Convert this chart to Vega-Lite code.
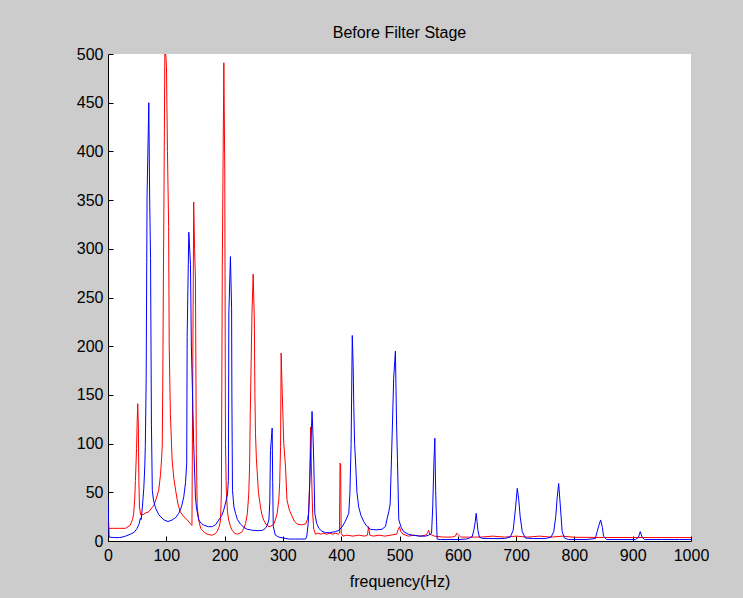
{
  "$schema": "https://vega.github.io/schema/vega-lite/v6.json",
  "width": 583,
  "height": 487,
  "autosize": {"type": "none"},
  "padding": {"left": 108, "top": 54, "right": 52, "bottom": 57},
  "background": "#cccccc",
  "config": {
    "view": {"fill": "white", "stroke": null},
    "font": "Liberation Sans",
    "axis": {
      "grid": false,
      "domainColor": "black",
      "domainWidth": 1,
      "tickColor": "black",
      "tickSize": -5,
      "labelColor": "black",
      "labelFont": "Liberation Sans",
      "labelFontSize": 16,
      "titleColor": "black",
      "titleFont": "Liberation Sans",
      "titleFontSize": 16,
      "titleFontWeight": "normal"
    }
  },
  "title": {
    "text": "Before Filter Stage",
    "fontSize": 16,
    "fontWeight": "normal",
    "font": "Liberation Sans",
    "color": "black",
    "baseline": "alphabetic",
    "offset": 16,
    "dy": 24
  },
  "datasets": {
    "red": [
      {"f": 0, "a": 25}, {"f": 1, "a": 13}, {"f": 10, "a": 13}, {"f": 20, "a": 13}, {"f": 30, "a": 13},
      {"f": 38, "a": 16}, {"f": 42, "a": 22}, {"f": 44, "a": 28}, {"f": 46, "a": 45}, {"f": 47, "a": 62},
      {"f": 49, "a": 95}, {"f": 50, "a": 121}, {"f": 51, "a": 141}, {"f": 52, "a": 120}, {"f": 53, "a": 60},
      {"f": 54, "a": 35}, {"f": 56, "a": 27}, {"f": 60, "a": 27}, {"f": 65, "a": 29}, {"f": 70, "a": 30},
      {"f": 75, "a": 34}, {"f": 79, "a": 37}, {"f": 83, "a": 44}, {"f": 87, "a": 52}, {"f": 90, "a": 68},
      {"f": 92, "a": 85}, {"f": 93, "a": 97}, {"f": 94, "a": 165}, {"f": 95, "a": 268}, {"f": 96, "a": 352},
      {"f": 97.5, "a": 500}, {"f": 99, "a": 500}, {"f": 100.3, "a": 487}, {"f": 102, "a": 400}, {"f": 104, "a": 323},
      {"f": 105, "a": 200}, {"f": 107, "a": 131}, {"f": 110, "a": 83}, {"f": 113, "a": 64}, {"f": 116, "a": 52},
      {"f": 120, "a": 38}, {"f": 124, "a": 30}, {"f": 130, "a": 25}, {"f": 136, "a": 21.6}, {"f": 141, "a": 18},
      {"f": 144, "a": 16}, {"f": 145.5, "a": 183}, {"f": 147, "a": 348}, {"f": 148.5, "a": 300}, {"f": 150, "a": 270},
      {"f": 151.5, "a": 90}, {"f": 153, "a": 35}, {"f": 156, "a": 20}, {"f": 159, "a": 13}, {"f": 163, "a": 10},
      {"f": 167, "a": 8}, {"f": 173, "a": 6.5}, {"f": 179, "a": 6}, {"f": 184, "a": 7.5}, {"f": 187, "a": 9.6},
      {"f": 191, "a": 15}, {"f": 193, "a": 21.6}, {"f": 194.5, "a": 49}, {"f": 196, "a": 278}, {"f": 198.7, "a": 491},
      {"f": 200.3, "a": 380}, {"f": 201.5, "a": 100}, {"f": 203, "a": 50}, {"f": 205, "a": 30}, {"f": 207, "a": 21.6},
      {"f": 210, "a": 15}, {"f": 213, "a": 11}, {"f": 217, "a": 8}, {"f": 222, "a": 7}, {"f": 226, "a": 8},
      {"f": 230, "a": 9.6}, {"f": 233, "a": 13}, {"f": 236, "a": 18}, {"f": 239, "a": 28}, {"f": 241.5, "a": 49},
      {"f": 243, "a": 80}, {"f": 244, "a": 131}, {"f": 247, "a": 235}, {"f": 249, "a": 274}, {"f": 251, "a": 227},
      {"f": 252, "a": 150}, {"f": 253, "a": 110}, {"f": 254.5, "a": 85}, {"f": 256, "a": 70}, {"f": 258, "a": 50},
      {"f": 261.6, "a": 35}, {"f": 264, "a": 27}, {"f": 267, "a": 21.6}, {"f": 271, "a": 17}, {"f": 276, "a": 14.7},
      {"f": 281.6, "a": 15.7}, {"f": 285, "a": 18}, {"f": 287, "a": 21.6}, {"f": 290, "a": 28}, {"f": 293, "a": 42},
      {"f": 294.5, "a": 60}, {"f": 296, "a": 97}, {"f": 297, "a": 193}, {"f": 298.5, "a": 160}, {"f": 300, "a": 130},
      {"f": 301.5, "a": 100}, {"f": 304.5, "a": 76}, {"f": 307, "a": 42}, {"f": 311, "a": 32}, {"f": 316, "a": 25},
      {"f": 320, "a": 20}, {"f": 324.5, "a": 17.5}, {"f": 332, "a": 16.5}, {"f": 339, "a": 17.5}, {"f": 342, "a": 22},
      {"f": 344, "a": 28.5}, {"f": 346, "a": 60}, {"f": 347.5, "a": 117}, {"f": 349, "a": 73}, {"f": 351, "a": 28.5},
      {"f": 353, "a": 12}, {"f": 356, "a": 7}, {"f": 360, "a": 8}, {"f": 365, "a": 7}, {"f": 370, "a": 8},
      {"f": 375, "a": 7}, {"f": 380, "a": 8}, {"f": 385, "a": 7}, {"f": 390, "a": 8}, {"f": 395, "a": 7},
      {"f": 397, "a": 8}, {"f": 398, "a": 80}, {"f": 399, "a": 79}, {"f": 400, "a": 8}, {"f": 403, "a": 5},
      {"f": 410, "a": 6}, {"f": 420, "a": 5}, {"f": 430, "a": 6}, {"f": 440, "a": 5}, {"f": 445, "a": 6},
      {"f": 447, "a": 14.7}, {"f": 449, "a": 6}, {"f": 455, "a": 5}, {"f": 465, "a": 6}, {"f": 475, "a": 5},
      {"f": 485, "a": 6}, {"f": 495, "a": 7}, {"f": 498, "a": 12}, {"f": 500, "a": 14.7}, {"f": 502, "a": 10},
      {"f": 506, "a": 7}, {"f": 515, "a": 5}, {"f": 525, "a": 6}, {"f": 535, "a": 5}, {"f": 545, "a": 6},
      {"f": 548, "a": 8}, {"f": 550, "a": 11}, {"f": 552, "a": 7}, {"f": 560, "a": 5}, {"f": 575, "a": 4},
      {"f": 590, "a": 4}, {"f": 596, "a": 5}, {"f": 598, "a": 8}, {"f": 600, "a": 7}, {"f": 605, "a": 4},
      {"f": 620, "a": 4}, {"f": 640, "a": 4}, {"f": 660, "a": 5}, {"f": 680, "a": 4}, {"f": 700, "a": 5},
      {"f": 720, "a": 4}, {"f": 740, "a": 5}, {"f": 760, "a": 4}, {"f": 780, "a": 5}, {"f": 800, "a": 3.8},
      {"f": 850, "a": 3.6}, {"f": 900, "a": 3.6}, {"f": 950, "a": 3.5}, {"f": 1000, "a": 3.5}
    ],
    "blue": [
      {"f": 0, "a": 44}, {"f": 1, "a": 20}, {"f": 2, "a": 4}, {"f": 10, "a": 3.5}, {"f": 20, "a": 3.5},
      {"f": 24, "a": 4}, {"f": 30, "a": 5}, {"f": 38.6, "a": 7}, {"f": 45, "a": 9}, {"f": 50, "a": 13},
      {"f": 53, "a": 17}, {"f": 55.7, "a": 23.6}, {"f": 57, "a": 22}, {"f": 59, "a": 35}, {"f": 61.4, "a": 54},
      {"f": 63, "a": 75}, {"f": 64, "a": 97}, {"f": 65.5, "a": 167}, {"f": 67, "a": 354}, {"f": 70, "a": 450},
      {"f": 71.5, "a": 350}, {"f": 73, "a": 290}, {"f": 74.5, "a": 120}, {"f": 76, "a": 52}, {"f": 78, "a": 42},
      {"f": 81.5, "a": 34}, {"f": 87, "a": 27}, {"f": 96, "a": 21.6}, {"f": 103, "a": 20}, {"f": 110, "a": 21.6},
      {"f": 116, "a": 24}, {"f": 121.5, "a": 28.5}, {"f": 126, "a": 35}, {"f": 130, "a": 45.5}, {"f": 133, "a": 60},
      {"f": 135, "a": 80}, {"f": 135.8, "a": 210}, {"f": 138.6, "a": 317}, {"f": 141.5, "a": 284}, {"f": 143, "a": 200},
      {"f": 145, "a": 150}, {"f": 147, "a": 100}, {"f": 150, "a": 45}, {"f": 152, "a": 33}, {"f": 155.7, "a": 21.6},
      {"f": 160, "a": 18}, {"f": 164, "a": 16.4}, {"f": 172, "a": 14.7}, {"f": 179, "a": 14.7}, {"f": 185, "a": 17},
      {"f": 190, "a": 21.6}, {"f": 195, "a": 26}, {"f": 198.6, "a": 32}, {"f": 202, "a": 40}, {"f": 205, "a": 48},
      {"f": 206.5, "a": 62}, {"f": 207.3, "a": 233}, {"f": 210, "a": 292}, {"f": 212, "a": 239}, {"f": 212.5, "a": 150},
      {"f": 213.5, "a": 52}, {"f": 216, "a": 35}, {"f": 218.7, "a": 28.5}, {"f": 222, "a": 22}, {"f": 227, "a": 17.5},
      {"f": 233, "a": 14}, {"f": 238.8, "a": 12}, {"f": 248, "a": 11}, {"f": 258.7, "a": 10.6}, {"f": 265, "a": 11},
      {"f": 270, "a": 13}, {"f": 273, "a": 16}, {"f": 276, "a": 21.6}, {"f": 277.5, "a": 40}, {"f": 278.7, "a": 93},
      {"f": 281.6, "a": 116}, {"f": 282.5, "a": 60}, {"f": 283.5, "a": 15}, {"f": 287, "a": 6}, {"f": 293, "a": 4},
      {"f": 301.5, "a": 3}, {"f": 310, "a": 2}, {"f": 320, "a": 2}, {"f": 330, "a": 2}, {"f": 339, "a": 2},
      {"f": 341, "a": 5}, {"f": 343.4, "a": 18}, {"f": 345, "a": 40}, {"f": 347, "a": 80}, {"f": 350, "a": 133},
      {"f": 351.5, "a": 110}, {"f": 353, "a": 80}, {"f": 354.7, "a": 28.5}, {"f": 358, "a": 18}, {"f": 361.6, "a": 13},
      {"f": 367, "a": 10}, {"f": 373, "a": 8.6}, {"f": 380, "a": 8.5}, {"f": 390, "a": 9.6}, {"f": 396, "a": 11},
      {"f": 401.7, "a": 14.7}, {"f": 407, "a": 20}, {"f": 413, "a": 28.5}, {"f": 415, "a": 50}, {"f": 417, "a": 100},
      {"f": 419, "a": 211}, {"f": 420.5, "a": 181}, {"f": 421.6, "a": 138}, {"f": 423, "a": 100}, {"f": 424.5, "a": 83},
      {"f": 427, "a": 50}, {"f": 430, "a": 35}, {"f": 434, "a": 26}, {"f": 438.8, "a": 19.8}, {"f": 444, "a": 15},
      {"f": 450, "a": 12}, {"f": 460, "a": 11.5}, {"f": 470, "a": 12}, {"f": 476, "a": 15}, {"f": 479, "a": 23.6},
      {"f": 481.6, "a": 30}, {"f": 484, "a": 38}, {"f": 487.5, "a": 111}, {"f": 490, "a": 167}, {"f": 493, "a": 195},
      {"f": 495, "a": 119}, {"f": 496.5, "a": 83}, {"f": 498.8, "a": 21.6}, {"f": 503, "a": 14}, {"f": 507, "a": 9.6},
      {"f": 515, "a": 7}, {"f": 521.8, "a": 6}, {"f": 535, "a": 5}, {"f": 544.6, "a": 5}, {"f": 550, "a": 6},
      {"f": 555, "a": 8}, {"f": 557, "a": 35}, {"f": 559, "a": 80}, {"f": 560.6, "a": 105.5}, {"f": 562, "a": 52},
      {"f": 563.5, "a": 20}, {"f": 564.6, "a": 2}, {"f": 570, "a": 1.5}, {"f": 580, "a": 1.5}, {"f": 600, "a": 1.5},
      {"f": 615, "a": 2}, {"f": 620, "a": 3}, {"f": 624.7, "a": 4.4}, {"f": 627.5, "a": 11}, {"f": 630, "a": 20},
      {"f": 631.5, "a": 28.4}, {"f": 633, "a": 20}, {"f": 634.5, "a": 11}, {"f": 637, "a": 4}, {"f": 642, "a": 2.7},
      {"f": 660, "a": 2.5}, {"f": 680, "a": 2.5}, {"f": 690, "a": 4}, {"f": 695, "a": 11}, {"f": 699, "a": 34},
      {"f": 702, "a": 54}, {"f": 704.6, "a": 42}, {"f": 707, "a": 25}, {"f": 710.5, "a": 9.6}, {"f": 716, "a": 3},
      {"f": 730, "a": 2.5}, {"f": 750, "a": 2.5}, {"f": 760, "a": 4}, {"f": 764.6, "a": 9.6}, {"f": 768, "a": 25},
      {"f": 770.5, "a": 45}, {"f": 773, "a": 59}, {"f": 776, "a": 35}, {"f": 779, "a": 9.6}, {"f": 783, "a": 3},
      {"f": 790, "a": 1.5}, {"f": 820, "a": 1.5}, {"f": 836, "a": 2.5}, {"f": 839, "a": 9.6}, {"f": 842, "a": 16},
      {"f": 845, "a": 21.6}, {"f": 848, "a": 14}, {"f": 850, "a": 5}, {"f": 855, "a": 1.5}, {"f": 880, "a": 1.5},
      {"f": 905, "a": 1.5}, {"f": 910, "a": 4}, {"f": 913, "a": 9.6}, {"f": 916, "a": 4}, {"f": 920, "a": 1.5},
      {"f": 950, "a": 1.5}, {"f": 980, "a": 1.5}, {"f": 1000, "a": 1.5}
    ]
  },
  "encoding": {
    "x": {
      "field": "f",
      "type": "quantitative",
      "scale": {"domain": [0, 1000], "nice": false},
      "axis": {"title": "frequency(Hz)", "format": "d", "values": [0, 100, 200, 300, 400, 500, 600, 700, 800, 900, 1000], "labelPadding": 11, "titlePadding": 10, "labelFlush": false}
    },
    "y": {
      "field": "a",
      "type": "quantitative",
      "scale": {"domain": [0, 500], "nice": false},
      "axis": {"title": null, "values": [0, 50, 100, 150, 200, 250, 300, 350, 400, 450, 500], "labelPadding": 10, "labelFlush": false}
    }
  },
  "layer": [
    {"data": {"name": "red"}, "mark": {"type": "line", "color": "#ff0000", "strokeWidth": 1, "clip": true}},
    {"data": {"name": "blue"}, "mark": {"type": "line", "color": "#0000ff", "strokeWidth": 1, "clip": true}}
  ]
}
